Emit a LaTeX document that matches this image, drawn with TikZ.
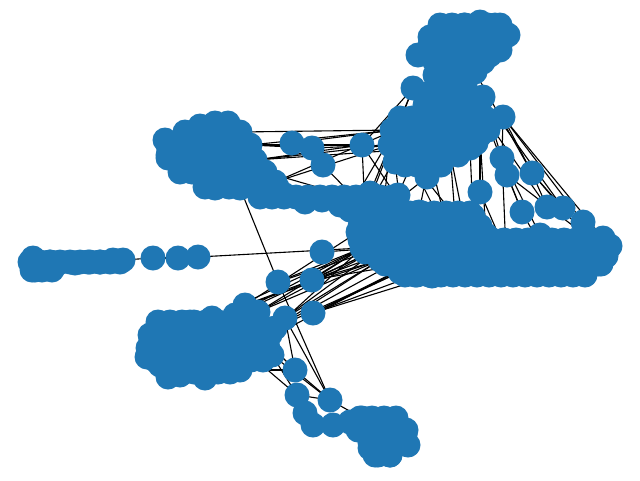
\documentclass[tikz,border=0pt]{standalone}
\usetikzlibrary{backgrounds}
\definecolor{mplblue}{HTML}{1F77B4}
\tikzset{
  nd/.style={circle, fill=mplblue, draw=none, minimum size=25pt, inner sep=0pt},
  lnk/.style={line width=1.1pt, black}
}
\begin{document}
\begin{tikzpicture}[x=1pt,y=-1pt]
\useasboundingbox (0,0) rectangle (640,480);
% cluster A top
\foreach \x/\y [count=\i] in {418/55,435/40,450/30,465/25,480/22,495/25,508/35,500/45,480/40,460/45,445/55,470/60,490/55,455/65,440/68,475/72,430/45,450/80,465/85}
  \node[nd] (at\i) at (\x,\y) {};
\foreach \y/\xa/\xs/\xb in {25/440/452/505,37/430/442/510,50/428/440/500,62/435/447/490,75/435/447/470,88/435/447/470}
  {\foreach \x in {\xa,\xs,...,\xb} \node[nd] (fa-\x-\y) at (\x,\y) {};}
% cluster A lower
\foreach \x/\y [count=\i] in {413/88,440/95,460/98,483/97,503/117,395/130,410/120,425/110,445/108,465/110,485/118,400/150,420/145,440/140,460/135,480/135,410/160,430/158,450/152,470/148,390/145,435/125,455/122,427/177,395/162}
  \node[nd] (al\i) at (\x,\y) {};
\foreach \y/\xa/\xs/\xb in {105/425/437/480,118/400/412/490,130/392/404/488,143/392/404/478,155/398/410/462,165/405/417/445}
  {\foreach \x in {\xa,\xs,...,\xb} \node[nd] (fl-\x-\y) at (\x,\y) {};}
% right chain of A
\foreach \x/\y [count=\i] in {502/158,507/175,532/173,480/192,522/212,547/207,563/208,583/222,603/238}
  \node[nd] (ar\i) at (\x,\y) {};
% cluster B
\foreach \x/\y [count=\i] in {165/140,168/155,180/168,185/132,200/126,215/123,228/123,240/132,250/145,255/160,265/172,275/182,200/150,220/150,232/170,210/175,195/170,215/188,240/188,262/190,240/155,225/138}
  \node[nd] (b\i) at (\x,\y) {};
\foreach \y/\xa/\xs/\xb in {132/195/207/232,145/168/180/250,158/168/180/258,172/180/192/270,187/205/217/280,197/260/272/395}
  {\foreach \x in {\xa,\xs,...,\xb} \node[nd] (fb-\x-\y) at (\x,\y) {};}
\foreach \x/\y [count=\i] in {292/143,312/148,323/165,362/145}
  \node[nd] (bc\i) at (\x,\y) {};
\foreach \x/\y [count=\i] in {285/195,305/202,322/200,340/205,355/198,370/193,385/200,398/195}
  \node[nd] (br\i) at (\x,\y) {};
% cluster C
\foreach \x/\y [count=\i] in {33/258,35/270,50/262,57/264,75/263,88/262,100/262,113/260,123/260,153/258,178/258,198/257}
  \node[nd] (c\i) at (\x,\y) {};
\foreach \y/\xa/\xs/\xb in {262/30/40/120,270/32/42/60}
  {\foreach \x in {\xa,\xs,...,\xb} \node[nd] (fc-\x-\y) at (\x,\y) {};}
% middle singles
\node[nd] (m1) at (322,252) {};
\node[nd] (m2) at (278,282) {};
\node[nd] (m3) at (312,280) {};
\node[nd] (m4) at (313,313) {};
\node[nd] (m5) at (285,318) {};
% cluster D
\foreach \x/\y [count=\i] in {150/350,155/340,160/365,170/330,175/360,180/375,190/322,195/345,200/370,212/318,220/340,225/365,235/315,245/332,250/355,258/312,265/340,272/355,275/328,147/357,168/377,205/378,240/370,245/305,185/340}
  \node[nd] (d\i) at (\x,\y) {};
\foreach \y/\xa/\xs/\xb in {322/158/170/265,335/150/162/275,348/148/160/270,360/155/167/265,372/170/182/235}
  {\foreach \x in {\xa,\xs,...,\xb} \node[nd] (fd-\x-\y) at (\x,\y) {};}
% cluster E
\foreach \x/\y [count=\i] in {295/370,297/395,330/400,305/413,313/425,333/425,350/422,362/418,378/420,395/425,405/435,408/445,395/445,380/440,365/432,375/455,390/455,370/448,400/428}
  \node[nd] (e\i) at (\x,\y) {};
\foreach \y/\xa/\xs/\xb in {418/360/372/405,430/358/370/410,443/370/382/408,455/378/390/395}
  {\foreach \x in {\xa,\xs,...,\xb} \node[nd] (fe-\x-\y) at (\x,\y) {};}
% cluster F
\foreach \x/\y [count=\i] in {365/212,383/212,401/212,419/212,437/214,455/216,473/216,
  358/232,376/230,394/230,412/230,430/230,448/232,466/232,486/235,
  362/248,380/248,398/248,416/248,434/248,452/248,470/250,488/250,506/252,524/250,542/248,560/248,578/246,596/248,610/246,
  380/260,396/262,411/264,429/264,447/264,465/262,483/262,501/262,519/264,537/264,555/262,573/262,591/260,606/256,
  400/272,415/275,432/276,450/274,467/272,520/270,540/270,560/268,580/268,598/264,
  397/197,350/210,540/235,585/235}
  \node[nd] (f\i) at (\x,\y) {};
\foreach \y/\xa/\xs/\xb in {213/362/374/470,226/360/372/485,240/360/372/600,252/365/377/610,264/385/397/605,275/405/417/590}
  {\foreach \x in {\xa,\xs,...,\xb} \node[nd] (ff-\x-\y) at (\x,\y) {};}
\begin{scope}[on background layer]
\fill[white] (0,0) rectangle (640,480);
\foreach \a/\b in {c1/c3,c3/c5,c5/c6,c6/c8,c8/c9,c9/c10,c10/c11,c11/c12,c12/f16,m1/f17,
  b19/m2,
  d16/f16,d16/f17,d19/f16,d19/f31,d24/f31,d24/f8,m5/f17,d13/f16,d16/f31,d19/f32,d24/f18,m5/f31,d13/f17,d10/f16,
  m4/f45,m4/f46,m4/f33,m4/f47,d19/f45,d17/f33,
  m3/f16,m3/f17,m3/f31,m3/f23,m2/f16,m2/f17,
  b9/bc4,b10/bc4,b9/al6,b10/al21,b8/al6,b12/al21,bc1/al6,bc2/al21,b9/bc2,b11/br5,b10/al12,bc3/br5,b12/al6,
  al25/f3,al17/f5,al12/f1,al13/f55,al18/f4,al19/f6,al24/f2,bc4/f1,bc4/f55,al21/f2,f1/al1,br6/al1,bc4/al1,br5/al6,
  al5/ar1,al5/ar3,al5/ar9,al4/ar2,al11/ar5,al16/ar4,al16/f15,al20/f7,al19/f14,ar1/f24,ar2/ar5,ar3/ar6,ar3/ar7,ar4/f24,ar5/f26,al5/ar8,al11/ar6,at16/ar3,al4/ar7,al18/f13,al17/f6,ar2/f58,ar1/f57,ar3/f29,
  d18/e3,m5/e3,d17/e1,e1/e3,e2/e3,d15/e2,m2/e3,m5/e1,d23/e1,d18/e2,e3/e8}
  \draw[lnk] (\a.center) -- (\b.center);
\end{scope}
\end{tikzpicture}
\end{document}
